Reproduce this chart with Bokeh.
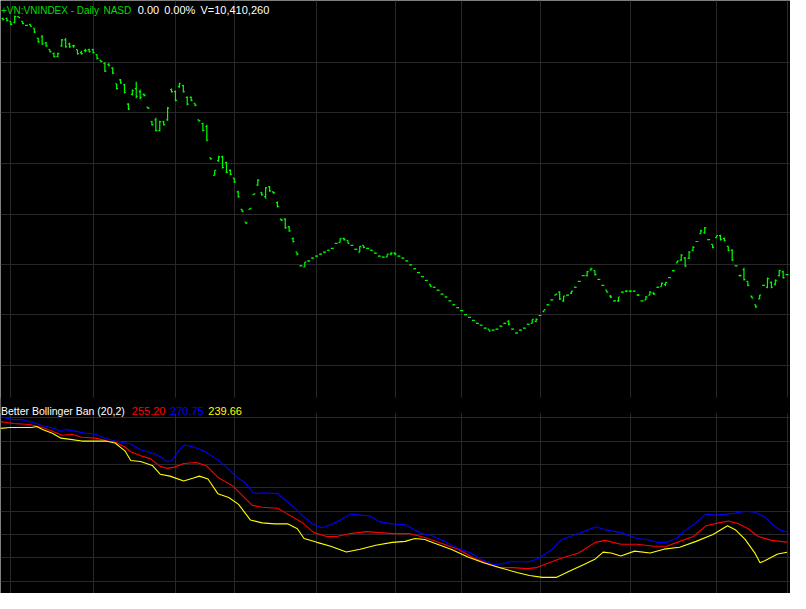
from bokeh.plotting import figure
from bokeh.models import Range1d, Grid, FixedTicker, ColumnDataSource, Label, BoxAnnotation
from bokeh.transform import dodge
from bokeh.embed import file_html
from bokeh.resources import INLINE

# ---------------- data ----------------
opens = [
    437.4, 437.4, 435.3, 434.6, 438.8, 435.3, 432.5, 433.2, 430.4, 423.4,
    424.1, 419.9, 415.0, 412.2, 410.1, 417.8, 422.0, 419.2, 417.8, 415.0,
    412.9, 414.3, 415.0, 415.0, 411.5, 407.3, 405.2, 404.5, 401.7, 390.5,
    393.3, 389.8, 375.8, 382.8, 387.0, 384.9, 382.8, 373.7, 363.2, 364.6,
    356.9, 363.2, 364.6, 386.3, 384.9, 388.4, 389.1, 380.7, 380.7, 376.5,
    364.6, 361.8, 359.7, 337.3, 324.7, 335.2, 338.0, 333.8, 328.2, 322.6,
    312.8, 300.2, 291.1, 300.2, 310.7, 317.7, 312.1, 309.3, 316.3, 312.8,
    305.1, 293.2, 293.2, 287.6, 279.2, 269.4, 259.6, 258.9, 263.1, 265.2,
    266.6, 268.0, 269.4, 270.8, 272.2, 275.7, 276.4, 279.2, 277.8, 274.3,
    271.5, 269.4, 274.3, 272.2, 270.8, 268.7, 266.6, 265.9, 265.9, 268.0,
    268.7, 266.6, 265.2, 263.1, 260.3, 257.5, 254.7, 251.9, 249.1, 246.3,
    244.2, 242.1, 239.3, 237.2, 234.4, 231.6, 229.5, 227.4, 224.6, 222.5,
    220.4, 218.3, 216.9, 214.8, 214.1, 213.4, 214.1, 216.2, 218.3, 219.7,
    214.1, 211.3, 213.4, 214.8, 217.6, 218.3, 219.7, 223.9, 226.7, 231.6,
    235.1, 238.6, 240.7, 234.4, 238.6, 240.0, 244.2, 248.4, 252.6, 252.6,
    256.8, 256.1, 249.8, 245.6, 242.1, 237.9, 234.4, 234.4, 240.7, 241.4,
    241.4, 241.4, 238.6, 234.4, 235.1, 238.6, 240.0, 244.2, 244.9, 246.3,
    251.2, 256.1, 261.7, 263.8, 265.2, 265.2, 270.8, 277.1, 282.7, 283.4,
    278.5, 275.0, 279.9, 281.3, 279.2, 273.6, 270.8, 259.6, 252.6, 256.8,
    248.4, 237.9, 231.6, 235.8, 245.6, 244.2, 247.7, 246.3, 252.6, 255.4,
    253.3,
]
highs = [
    438.1, 438.1, 435.3, 439.5, 438.8, 435.3, 432.8, 433.2, 430.4, 423.4,
    425.5, 420.6, 415.0, 412.9, 412.9, 422.7, 423.4, 419.9, 418.5, 415.0,
    414.3, 415.7, 415.7, 415.7, 411.5, 407.3, 405.9, 405.2, 402.4, 390.5,
    394.0, 390.5, 376.5, 386.3, 391.9, 386.3, 383.5, 373.7, 363.9, 366.0,
    363.9, 363.9, 373.7, 387.0, 385.6, 391.2, 389.8, 381.4, 381.4, 376.5,
    364.6, 362.5, 361.1, 337.3, 328.2, 338.7, 338.7, 334.5, 328.9, 322.6,
    313.5, 300.2, 291.1, 300.9, 311.4, 321.9, 312.8, 316.3, 317.0, 312.8,
    305.8, 293.2, 293.9, 288.3, 279.9, 269.4, 259.9, 262.4, 263.4, 265.5,
    266.9, 268.3, 269.7, 271.1, 272.5, 276.0, 279.2, 279.9, 277.8, 274.6,
    271.8, 273.6, 274.3, 272.5, 271.1, 269.0, 266.9, 266.2, 268.0, 269.4,
    269.4, 266.9, 265.5, 263.4, 260.6, 257.8, 255.0, 252.2, 249.4, 246.3,
    244.5, 242.4, 239.6, 237.5, 234.7, 231.9, 229.8, 227.7, 224.9, 222.8,
    220.7, 218.6, 217.2, 215.1, 214.1, 213.7, 214.4, 216.5, 218.6, 220.4,
    214.4, 211.6, 213.7, 215.1, 217.9, 221.1, 221.8, 224.2, 228.1, 231.9,
    235.4, 239.3, 241.4, 237.9, 238.9, 241.4, 244.5, 248.7, 252.9, 256.1,
    258.2, 256.1, 250.1, 245.9, 242.1, 238.6, 234.7, 237.2, 241.0, 242.1,
    242.1, 241.7, 239.3, 234.7, 237.9, 241.4, 240.7, 244.5, 247.7, 247.7,
    251.5, 256.4, 263.1, 268.0, 265.9, 270.1, 273.6, 277.4, 285.5, 287.6,
    278.8, 275.0, 281.3, 282.0, 279.9, 273.6, 271.5, 259.9, 253.3, 258.2,
    248.4, 237.9, 231.6, 238.6, 245.9, 251.2, 248.4, 249.8, 256.8, 256.1,
    253.6,
]
lows = [
    436.0, 435.3, 432.5, 433.9, 438.1, 433.2, 432.2, 431.8, 426.9, 419.9,
    418.5, 417.1, 412.9, 409.4, 409.4, 417.1, 416.4, 416.4, 416.4, 411.5,
    411.5, 412.9, 412.9, 412.2, 408.0, 405.9, 398.9, 403.1, 397.5, 386.3,
    390.5, 383.5, 371.6, 382.1, 380.0, 379.3, 381.4, 372.3, 360.4, 356.2,
    356.2, 360.4, 363.9, 384.2, 377.9, 387.7, 384.2, 375.1, 377.9, 374.4,
    363.2, 356.2, 349.2, 335.9, 324.7, 334.5, 329.6, 326.1, 324.7, 319.1,
    308.6, 298.1, 289.7, 300.2, 310.7, 317.0, 310.0, 307.9, 312.8, 311.4,
    301.6, 291.8, 286.2, 284.1, 276.4, 267.3, 259.3, 258.9, 262.8, 264.9,
    266.3, 267.7, 269.1, 270.5, 271.9, 275.4, 276.4, 277.8, 275.7, 274.0,
    271.2, 269.4, 272.2, 271.9, 270.5, 268.4, 266.3, 265.6, 265.9, 267.3,
    267.3, 266.3, 264.9, 262.8, 260.0, 257.2, 254.4, 251.6, 248.8, 244.9,
    243.9, 241.8, 239.0, 236.9, 234.1, 231.3, 229.2, 227.1, 224.3, 222.2,
    220.1, 218.0, 216.6, 214.5, 212.7, 213.1, 213.8, 215.9, 218.0, 216.9,
    213.8, 211.0, 213.1, 214.5, 217.3, 218.3, 219.0, 223.6, 226.7, 231.3,
    234.8, 238.6, 235.1, 233.7, 238.3, 239.3, 243.9, 248.1, 252.3, 251.9,
    256.1, 252.6, 249.5, 245.3, 240.7, 236.5, 234.1, 233.7, 240.4, 240.7,
    240.7, 241.1, 237.9, 234.1, 235.1, 238.6, 238.6, 243.9, 244.9, 244.9,
    250.9, 255.8, 261.7, 263.1, 258.9, 264.5, 270.1, 276.8, 282.7, 282.7,
    278.2, 272.2, 279.9, 277.8, 277.1, 270.1, 263.1, 259.3, 251.9, 249.1,
    244.9, 236.5, 229.5, 235.8, 245.3, 243.5, 243.5, 245.6, 251.9, 250.5,
    253.0,
]
closes = [
    436.7, 436.0, 433.2, 438.8, 438.1, 433.9, 432.5, 431.8, 427.6, 420.6,
    419.2, 417.8, 413.6, 410.1, 412.2, 422.0, 417.1, 417.1, 417.8, 412.2,
    412.2, 414.3, 413.6, 412.9, 408.7, 406.6, 399.6, 403.8, 398.2, 387.0,
    391.2, 384.2, 372.3, 385.6, 381.4, 380.7, 382.1, 373.0, 361.1, 356.9,
    363.2, 361.1, 373.0, 384.9, 378.6, 390.5, 384.9, 375.8, 378.6, 375.1,
    363.9, 356.9, 349.9, 336.6, 328.2, 338.0, 330.3, 326.8, 325.4, 319.8,
    309.3, 298.8, 290.4, 300.9, 311.4, 321.2, 310.7, 315.6, 313.5, 312.1,
    302.3, 292.5, 286.9, 284.8, 277.1, 268.0, 259.6, 262.4, 263.1, 265.2,
    266.6, 268.0, 269.4, 270.8, 272.2, 275.7, 279.2, 278.5, 275.7, 274.3,
    271.5, 273.6, 272.9, 272.2, 270.8, 268.7, 266.6, 265.9, 268.0, 268.7,
    268.0, 266.6, 265.2, 263.1, 260.3, 257.5, 254.7, 251.9, 249.1, 244.9,
    244.2, 242.1, 239.3, 237.2, 234.4, 231.6, 229.5, 227.4, 224.6, 222.5,
    220.4, 218.3, 216.9, 214.8, 212.7, 213.4, 214.1, 216.2, 218.3, 217.6,
    214.1, 211.3, 213.4, 214.8, 217.6, 221.1, 221.1, 223.9, 228.1, 231.6,
    235.1, 239.3, 235.8, 237.9, 238.6, 241.4, 244.2, 248.4, 252.6, 255.4,
    257.5, 253.3, 249.8, 245.6, 240.7, 237.2, 234.4, 237.2, 240.7, 241.4,
    241.4, 241.4, 238.6, 234.4, 237.2, 240.7, 239.3, 244.2, 247.0, 247.7,
    251.2, 256.1, 263.1, 267.3, 259.6, 269.4, 272.9, 277.1, 284.8, 286.9,
    278.5, 272.9, 281.3, 278.5, 277.8, 270.8, 263.8, 259.6, 252.6, 249.8,
    245.6, 236.5, 230.2, 238.6, 245.6, 250.5, 244.2, 249.1, 256.1, 251.2,
    253.3,
]

# Better Bollinger Band (20,2): upper / middle / lower, sampled along the bar axis
upper_band_x = [-0.6, 2.6, 4.8, 7.6, 10.1, 13.1, 14.8, 16.1, 18.6, 21.1,
                23.6, 26.1, 28.6, 32.6, 35.1, 38.6, 40.6, 41.8, 43.1, 44.8,
                46.3, 48.6, 51.1, 54.3, 56.8, 59.3, 61.8, 63.8, 65.1, 66.1,
                70.1, 71.8, 74.3, 76.8, 79.3, 81.3, 83.6, 86.1, 88.6, 91.1,
                93.6, 96.1, 99.3, 102.6, 106.8, 109.3, 112.6, 116.1, 119.3, 121.8,
                125.1, 127.6, 129.3, 134.3, 136.8, 140.1, 142.6, 146.1, 149.3, 151.3,
                153.6, 157.6, 161.8, 164.3, 166.8, 169.3, 171.8, 173.6, 176.1, 177.6,
                179.3, 181.8, 184.3, 186.8, 189.3, 191.8, 194.3, 196.1, 198.1, 200.0]
upper_band = [448.3, 443.8, 443.8, 439.3, 434.8, 430.3, 425.8, 428.8, 425.8, 422.8,
              421.3, 415.3, 410.8, 406.3, 397.3, 391.3, 385.3, 379.3, 380.8, 395.8,
              404.8, 401.8, 395.8, 383.8, 371.8, 356.8, 346.3, 331.3, 329.8, 331.3,
              329.8, 320.8, 308.8, 293.8, 281.8, 277.3, 281.8, 289.3, 298.3, 296.8,
              295.3, 286.3, 283.3, 281.8, 268.3, 265.3, 256.3, 245.8, 238.3, 229.3,
              220.3, 221.8, 224.8, 224.8, 230.8, 244.3, 259.3, 266.8, 274.3, 278.8,
              274.3, 269.8, 260.8, 259.3, 254.8, 254.8, 260.8, 271.3, 281.8, 289.3,
              298.3, 296.8, 298.3, 299.8, 302.8, 301.3, 293.8, 283.3, 274.3, 270.75]
mid_band_x = [-0.6, 2.6, 6.8, 10.1, 12.6, 15.1, 17.6, 20.1, 23.6, 26.8,
              28.6, 31.1, 32.6, 35.1, 37.6, 40.1, 41.8, 43.6, 46.1, 49.3,
              51.8, 55.1, 58.6, 61.1, 63.6, 66.1, 70.1, 72.6, 76.1, 79.3,
              82.6, 85.1, 88.6, 92.6, 96.1, 99.3, 103.6, 107.6, 111.8, 116.1,
              120.1, 124.3, 126.8, 130.1, 133.6, 136.1, 139.3, 142.6, 146.8, 151.1,
              153.6, 157.6, 161.8, 166.1, 169.3, 172.6, 176.1, 179.3, 182.6, 185.1,
              187.6, 190.1, 192.6, 196.1, 200.0]
mid_band = [440.8, 437.8, 436.3, 431.8, 425.8, 419.8, 421.3, 416.8, 415.3, 410.8,
            409.3, 401.8, 394.3, 388.3, 383.8, 371.8, 368.8, 370.3, 376.3, 377.8,
            373.3, 353.8, 341.8, 326.8, 311.8, 308.8, 307.3, 298.3, 286.3, 269.8,
            263.8, 263.8, 268.3, 271.3, 269.8, 268.3, 268.3, 262.3, 253.3, 244.3,
            230.8, 220.3, 215.8, 215.8, 214.3, 215.8, 223.3, 230.8, 238.3, 254.8,
            257.8, 251.8, 251.8, 248.8, 248.8, 256.3, 263.8, 280.3, 284.8, 287.8,
            283.3, 275.8, 263.8, 257.8, 255.2]
lower_band_x = [-0.6, 1.8, 7.3, 8.6, 10.1, 12.6, 14.8, 16.8, 20.1, 26.1,
                28.6, 31.1, 32.6, 35.1, 38.1, 40.1, 42.6, 46.1, 48.6, 50.1,
                52.3, 54.8, 57.6, 60.1, 63.1, 66.1, 69.3, 72.6, 75.1, 76.8,
                80.1, 83.6, 87.6, 91.1, 95.1, 99.3, 102.6, 105.1, 107.6, 110.1,
                114.3, 118.6, 122.6, 126.8, 131.1, 134.3, 137.6, 141.1, 144.3, 148.6,
                151.1, 153.1, 155.1, 157.6, 161.1, 165.1, 168.6, 172.6, 176.8, 181.1,
                184.8, 186.8, 189.3, 191.8, 193.1, 194.3, 197.6, 200.0]
lower_band = [430.3, 431.8, 431.8, 433.3, 428.8, 422.8, 415.3, 413.8, 410.8, 410.8,
              407.8, 395.8, 380.8, 379.3, 373.3, 359.8, 356.8, 349.3, 353.8, 356.8,
              352.3, 329.8, 323.8, 313.3, 289.3, 284.8, 283.3, 283.3, 275.8, 260.8,
              254.8, 248.8, 239.8, 244.3, 250.3, 254.8, 256.3, 260.8, 259.3, 253.3,
              244.3, 232.3, 223.3, 215.8, 208.3, 203.8, 200.8, 200.8, 209.8, 221.8,
              229.3, 239.8, 238.3, 233.8, 241.3, 238.3, 244.3, 247.3, 256.3, 266.8,
              280.3, 274.3, 259.3, 238.3, 223.3, 226.3, 236.8, 239.66]

# grid positions (month starts on the bar axis, price / band levels)
month_start_bars = [2, 23, 44, 59, 80, 100, 117, 137, 160, 182, 200]
price_grid_levels = [405.9, 369.5, 333.1, 296.7, 260.3, 224.6, 188.2]
band_grid_levels = [446.75, 410.75, 374.75, 338.75, 302.75, 266.75, 230.75, 194.75]

title_parts = ["+VN:VNINDEX - Daily", "NASD", "0.00", "0.00%", "V=10,410,260"]
legend_name = "Better Bollinger Ban (20,2)"
legend_values = ["255.20", "270.75", "239.66"]

# ---------------- layout helpers (reference-pixel -> data) ----------------
W_REF, H_REF = 806, 609


def px_x(X):
    return (X - 2.5) / 4.0


def px_y(Y):
    return 450.35 - 0.7 * Y


def px_q(Y):
    return 1089.5 - 1.5 * Y


GRID = "#282828"
BAR = "#00ff00"
FONT = "Liberation Sans"

p = figure(width=790, height=593,
           x_range=Range1d(px_x(0), px_x(W_REF)),
           y_range=Range1d(px_y(H_REF), px_y(0)),
           output_backend="svg", toolbar_location=None,
           x_axis_location=None, y_axis_location=None,
           min_border=0, background_fill_color="#000000",
           border_fill_color="#000000", outline_line_color=None)
p.extra_y_ranges = {"bb": Range1d(px_q(H_REF), px_q(0))}
for g in p.grid:
    g.visible = False

p.add_layout(Grid(dimension=0, ticker=FixedTicker(ticks=month_start_bars),
                  grid_line_color=GRID, grid_line_width=1))
p.add_layout(Grid(dimension=1, ticker=FixedTicker(ticks=price_grid_levels),
                  grid_line_color=GRID, grid_line_width=1))
p.add_layout(Grid(dimension=1, ticker=FixedTicker(ticks=band_grid_levels),
                  y_range_name="bb", grid_line_color=GRID, grid_line_width=1))
# gap between the two panes (no grid there)
p.add_layout(BoxAnnotation(top=px_y(408), bottom=px_y(424), fill_color="#000000",
                           fill_alpha=1.0, line_color=None, level="underlay"))

# ---------------- OHLC bars ----------------
src = ColumnDataSource(dict(bar=list(range(len(closes))), open=opens, high=highs,
                            low=lows, close=closes))
p.segment(x0="bar", y0="low", x1="bar", y1="high", source=src,
          line_color=BAR, line_width=1.2)
p.segment(x0=dodge("bar", -0.375), y0="open", x1="bar", y1="open", source=src,
          line_color=BAR, line_width=1.2)
p.segment(x0="bar", y0="close", x1=dodge("bar", 0.375), y1="close", source=src,
          line_color=BAR, line_width=1.2)

# ---------------- Bollinger bands ----------------
p.line(mid_band_x, mid_band, y_range_name="bb", line_color="#ff0000", line_width=1.1)
p.line(upper_band_x, upper_band, y_range_name="bb", line_color="#0000ff", line_width=1.1)
p.line(lower_band_x, lower_band, y_range_name="bb", line_color="#ffff00", line_width=1.1)

# ---------------- texts ----------------
title_specs = [(0.5, "#00dd00", "10px"), (105, "#00dd00", "10px"),
               (140, "#ffffff", "11px"), (167, "#ffffff", "11px"),
               (204, "#ffffff", "11px")]
for txt, (X, col, fs) in zip(title_parts, title_specs):
    p.add_layout(Label(x=px_x(X), y=px_y(10), text=txt, text_color=col,
                       text_font=FONT, text_font_size=fs,
                       text_align="left", text_baseline="alphabetic"))

p.add_layout(Label(x=px_x(0.5), y=px_y(422), text=legend_name, text_color="#ffffff",
                   text_font=FONT, text_font_size="10.5px",
                   text_align="left", text_baseline="alphabetic"))
for txt, X, col in zip(legend_values, [134, 173, 212], ["#ff0000", "#0000ff", "#ffff00"]):
    p.add_layout(Label(x=px_x(X), y=px_y(422), text=txt, text_color=col,
                       text_font=FONT, text_font_size="11px",
                       text_align="left", text_baseline="alphabetic"))

open("out.html", "w").write(file_html(p, INLINE))
